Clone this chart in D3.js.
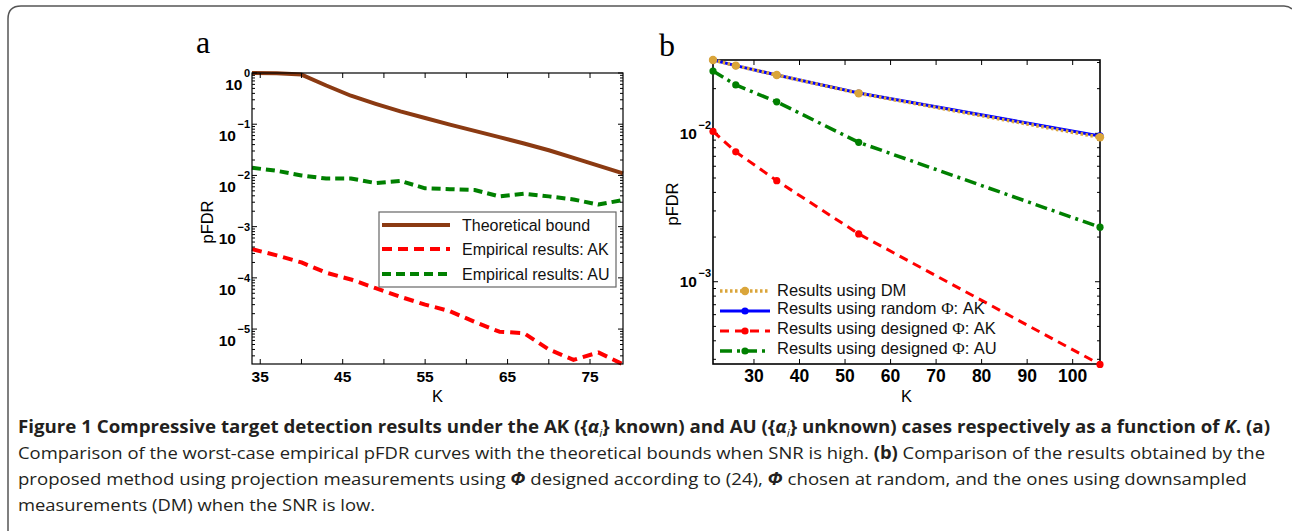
<!DOCTYPE html>
<html>
<head>
<meta charset="utf-8">
<script src="https://cdn.jsdelivr.net/npm/d3@7"></script>
<style>
  body { margin: 0; background: #fff; }
  svg { display: block; font-family: "Liberation Sans", Arial, sans-serif; }
  .tick-label { font-weight: bold; fill: #000; }
  .caption { font-family: "Open Sans", "Noto Sans", sans-serif; font-size: 17px; fill: #231f20; }
</style>
</head>
<body>
<svg id="fig" width="1292" height="531"></svg>
<script>
// panel a: worst-case pFDR vs K, high SNR
const kA = [34, 37, 40, 43, 46, 49, 52, 55, 58, 61, 64, 67, 70, 73, 76, 79];
const boundA = [1.0, 0.99, 0.93, 0.57, 0.36, 0.25, 0.178, 0.132, 0.098, 0.074, 0.056, 0.042, 0.031, 0.022, 0.0155, 0.011];
const empAkA = [3.63e-4, 2.75e-4, 2.0e-4, 1.26e-4, 9.3e-5, 6.3e-5, 4.27e-5, 3.0e-5, 2.24e-5, 1.38e-5, 8.9e-6, 8.3e-6, 4.0e-6, 2.5e-6, 3.5e-6, 2.05e-6];
const empAuA = [0.0141, 0.0123, 0.0100, 0.0087, 0.0087, 0.0071, 0.0078, 0.0056, 0.0054, 0.0052, 0.0039, 0.0044, 0.0039, 0.0034, 0.0027, 0.0033];
const xTicksA = [35, 40, 45, 50, 55, 60, 65, 70, 75];
const xLabelsA = [35, 45, 55, 65, 75];
const yDecadesA = [0, -1, -2, -3, -4, -5];

// panel b: low SNR, DM vs random / designed Phi
const kB = [21, 26, 35, 53, 106];
const dmB = [0.0312, 0.0286, 0.0247, 0.0186, 0.0094];
const randAkB = [0.0312, 0.0286, 0.0247, 0.0187, 0.0096];
const desAkB = [0.0103, 0.0075, 0.0048, 0.0021, 0.000277];
const desAuB = [0.0263, 0.0212, 0.0163, 0.0087, 0.00233];
const xTicksB = [30, 40, 50, 60, 70, 80, 90, 100];
const yDecadesB = [-2, -3];

const svg = d3.select("#fig");

// figure frame (rounded top-left, runs off the bottom/right)
svg.append("path")
  .attr("d", "M8,531 L8,19 Q8,6 21,6 L1284,6 Q1289,6 1292,9")
  .attr("fill", "none").attr("stroke", "#555").attr("stroke-width", 1.5);

function logMinor(y) {
  const [lo, hi] = y.domain();
  const out = [];
  for (let d = Math.floor(Math.log10(lo)); d <= Math.ceil(Math.log10(hi)); d++) {
    for (let m = 2; m <= 9; m++) {
      const v = m * Math.pow(10, d);
      if (v > lo && v < hi) out.push(v);
    }
  }
  return out;
}

function drawAxes(g, x, y, o) {
  const [x0, x1] = x.range();
  const [y0, y1] = y.range(); // y0 bottom, y1 top

  g.append("rect")
    .attr("x", x0).attr("y", y1)
    .attr("width", x1 - x0).attr("height", y0 - y1)
    .attr("fill", "none").attr("stroke", "#000").attr("stroke-width", o.axisW);

  const ticks = g.append("g").attr("stroke", "#000").attr("stroke-width", 1);

  // x ticks, inward on bottom and top
  o.xTicks.forEach(k => {
    const px = x(k);
    ticks.append("line").attr("x1", px).attr("x2", px).attr("y1", y0).attr("y2", y0 - 5);
    ticks.append("line").attr("x1", px).attr("x2", px).attr("y1", y1).attr("y2", y1 + 5);
  });

  // y major/minor ticks, inward on left and right
  o.yDecades.forEach(d => {
    const py = y(Math.pow(10, d));
    ticks.append("line").attr("x1", x0).attr("x2", x0 + 5).attr("y1", py).attr("y2", py);
    ticks.append("line").attr("x1", x1).attr("x2", x1 - 5).attr("y1", py).attr("y2", py);
  });
  logMinor(y).forEach(v => {
    const py = y(v);
    ticks.append("line").attr("x1", x0).attr("x2", x0 + 3).attr("y1", py).attr("y2", py);
    ticks.append("line").attr("x1", x1).attr("x2", x1 - 3).attr("y1", py).attr("y2", py);
  });

  // x tick labels
  g.append("g").selectAll("text")
    .data(o.xLabels).join("text")
    .attr("class", "tick-label")
    .attr("x", d => x(d)).attr("y", 382)
    .attr("text-anchor", "middle")
    .style("font-size", o.xFont + "px")
    .text(d => d);

  // y tick labels: 10 with exponent
  const yl = g.append("g").selectAll("text")
    .data(o.yDecades).join("text")
    .attr("class", "tick-label")
    .attr("x", x0 - 2)
    .attr("y", d => y(Math.pow(10, d)) + o.baseOff)
    .attr("text-anchor", "end")
    .style("font-size", "15.5px");
  yl.append("tspan").text("10");
  yl.append("tspan")
    .attr("dx", 1.5)
    .attr("dy", o.supOff)
    .style("font-size", "11px")
    .text(d => (d === 0 ? "0" : "\u2212" + Math.abs(d)));

  // axis titles
  g.append("text")
    .attr("x", (x0 + x1) / 2).attr("y", 402)
    .attr("text-anchor", "middle")
    .style("font-size", "16.5px")
    .text("K");
  g.append("text")
    .attr("transform", `translate(${o.yTitleX},${o.yTitleY}) rotate(-90)`)
    .attr("text-anchor", "middle")
    .attr("dy", "0.36em")
    .style("font-size", "16.5px")
    .text("pFDR");

  // panel letter
  g.append("text")
    .attr("x", o.letterX).attr("y", o.letterY)
    .style("font-family", "'Liberation Serif', 'DejaVu Serif', serif")
    .style("font-size", "32px")
    .text(o.letter);
}

// ---------- panel a ----------
const xA = d3.scaleLinear().domain([34, 79]).range([252, 623]);
const yA = d3.scaleLog().domain([2.08e-6, 1]).range([364, 73]);
const gA = svg.append("g");

const lineA = vals => d3.line()
  .x((d, i) => xA(kA[i]))
  .y(d => yA(d))(vals);

const seriesA = [
  { name: "Theoretical bound", vals: boundA, color: "#8b3a12", dash: null },
  { name: "Empirical results: AK", vals: empAkA, color: "#ff0000", dash: "10,6" },
  { name: "Empirical results: AU", vals: empAuA, color: "#008000", dash: "9,5" }
];

seriesA.forEach(s => {
  gA.append("path")
    .attr("d", lineA(s.vals))
    .attr("fill", "none")
    .attr("stroke", s.color)
    .attr("stroke-width", 4)
    .attr("stroke-linejoin", "round")
    .attr("stroke-dasharray", s.dash);
});

drawAxes(gA, xA, yA, {
  axisW: 1.2, xTicks: xTicksA, xLabels: xLabelsA, yDecades: yDecadesA,
  xFont: 15.5, baseOff: 17, supOff: -13,
  yTitleX: 207, yTitleY: 222, letter: "a", letterX: 196, letterY: 53
});

// legend a
const legA = gA.append("g");
legA.append("rect")
  .attr("x", 379).attr("y", 212).attr("width", 237).attr("height", 75)
  .attr("fill", "#fff").attr("stroke", "#666").attr("stroke-width", 1.2);
seriesA.forEach((s, i) => {
  const ry = [225, 249, 274][i];
  legA.append("line")
    .attr("x1", 382).attr("x2", 450).attr("y1", ry).attr("y2", ry)
    .attr("stroke", s.color).attr("stroke-width", 4)
    .attr("stroke-dasharray", s.dash);
  legA.append("text")
    .attr("x", 462).attr("y", ry + 5.5)
    .style("font-size", "16px")
    .attr("fill", "#111")
    .text(s.name);
});

// ---------- panel b ----------
const xB = d3.scaleLinear().domain([21, 106]).range([713, 1100]);
const yB = d3.scaleLog().domain([2.79e-4, 0.0312]).range([364, 60]);
const gB = svg.append("g");

const lineB = vals => d3.line()
  .x((d, i) => xB(kB[i]))
  .y(d => yB(d))(vals);

const seriesB = [
  { key: "rand", vals: randAkB, color: "#0000ff", dash: null, w: 3, r: 3.6 },
  { key: "dm", vals: dmB, color: "#daa53a", dash: "2.5,2.5", w: 3.5, r: 4.2 },
  { key: "desAk", vals: desAkB, color: "#ff0000", dash: "9,6", w: 3, r: 3.6 },
  { key: "desAu", vals: desAuB, color: "#008000", dash: "12,5,3,5", w: 3.5, r: 3.6 }
];

drawAxes(gB, xB, yB, {
  axisW: 1.6, xTicks: xTicksB, xLabels: xTicksB, yDecades: yDecadesB,
  xFont: 17.5, baseOff: 5.5, supOff: -10,
  yTitleX: 672, yTitleY: 204, letter: "b", letterX: 659, letterY: 56
});

seriesB.forEach(s => {
  gB.append("path")
    .attr("d", lineB(s.vals))
    .attr("fill", "none")
    .attr("stroke", s.color)
    .attr("stroke-width", s.w)
    .attr("stroke-dasharray", s.dash);
  gB.append("g").selectAll("circle")
    .data(s.vals).join("circle")
    .attr("cx", (d, i) => xB(kB[i]))
    .attr("cy", d => yB(d))
    .attr("r", s.r)
    .attr("fill", s.color);
});

// legend b (no box)
const legItemsB = [
  { s: seriesB[1], label: ["Results using DM"] },
  { s: seriesB[0], label: ["Results using random ", "\u03A6", ": AK"] },
  { s: seriesB[2], label: ["Results using designed ", "\u03A6", ": AK"] },
  { s: seriesB[3], label: ["Results using designed ", "\u03A6", ": AU"] }
];
const legB = gB.append("g");
legItemsB.forEach((it, i) => {
  const ry = [291, 311, 331, 351][i];
  legB.append("line")
    .attr("x1", 720).attr("x2", 770).attr("y1", ry).attr("y2", ry)
    .attr("stroke", it.s.color).attr("stroke-width", it.s.w)
    .attr("stroke-dasharray", it.s.dash);
  legB.append("circle")
    .attr("cx", 745).attr("cy", ry).attr("r", it.s.r)
    .attr("fill", it.s.color);
  const t = legB.append("text")
    .attr("x", 777).attr("y", ry + (i === 0 ? 4.5 : 3))
    .attr("fill", "#111")
    .style("font-size", "16.5px");
  it.label.forEach((part, j) => {
    const sp = t.append("tspan").text(part);
    if (j === 1) sp.style("font-family", "'Liberation Serif', serif").style("font-size", "17px");
  });
});

// ---------- caption ----------
const captionLines = [
  [["Figure 1 Compressive target detection results under the AK ({", "b"], ["\u03B1", "bi"], ["i", "bisub"],
   ["} known) and AU ({", "b"], ["\u03B1", "bi"], ["i", "bisub"],
   ["} unknown) cases respectively as a function of ", "b"], ["K", "bi"], [". (a)", "b"]],
  [["Comparison of the worst-case empirical pFDR curves with the theoretical bounds when SNR is high. ", ""],
   ["(b)", "b"], [" Comparison of the results obtained by the", ""]],
  [["proposed method using projection measurements using ", ""], ["\u03A6", "bi"],
   [" designed according to (24), ", ""], ["\u03A6", "bi"], [" chosen at random, and the ones using downsampled", ""]],
  [["measurements (DM) when the SNR is low.", ""]]
];
const captionY = [433, 459, 485, 511];
const captionW = [1252, 1247, 1229, 357];

captionLines.forEach((parts, i) => {
  const t = svg.append("text")
    .attr("class", "caption")
    .attr("x", 18).attr("y", captionY[i])
    .attr("textLength", captionW[i])
    .attr("lengthAdjust", "spacingAndGlyphs");
  parts.forEach(([txt, st]) => {
    const sp = t.append("tspan").text(txt);
    if (st.includes("b")) sp.style("font-weight", "bold");
    if (st.includes("i")) sp.style("font-style", "italic");
    if (st === "bisub") {
      sp.style("font-weight", "normal").style("font-size", "11px").attr("dy", 4);
    }
    if ((st === "b" || st === "bi") && txt.startsWith("}")) sp.attr("dy", -4);
  });
});
</script>
</body>
</html>
